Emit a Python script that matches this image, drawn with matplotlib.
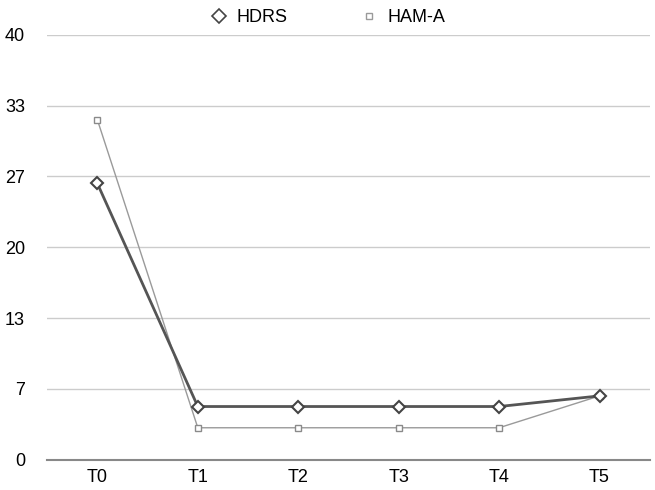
import numpy as np
import matplotlib
matplotlib.use('Agg')
import matplotlib.pyplot as plt
from matplotlib.lines import Line2D

plt.rcParams['font.family'] = ['Liberation Sans', 'DejaVu Sans']

times = ['T0', 'T1', 'T2', 'T3', 'T4', 'T5']
hdrs = [26, 5, 5, 5, 5, 6]
ham_a = [32, 3, 3, 3, 3, 6]
yticks = np.linspace(0, 40, 7)
ytick_labels = ['0', '7', '13', '20', '27', '33', '40']

fig = plt.figure(figsize=(6.55, 4.9), dpi=100)
ax = fig.add_axes([0.072, 0.062, 0.92, 0.867])

x = np.arange(len(times))
ax.plot(x, ham_a, color='#9a9a9a', lw=1.0, marker='s', ms=5,
        mfc='white', mec='#8a8a8a', mew=1.0, zorder=3)
ax.plot(x, hdrs, color='#555555', lw=2.0, marker='D', ms=6,
        mfc='white', mec='#444444', mew=1.5, zorder=4)

ax.set_xlim(-0.5, 5.5)
ax.set_ylim(0, 40)
ax.set_xticks(x)
ax.set_xticklabels(times, fontsize=13)
ax.set_yticks(yticks)
ax.set_yticklabels(ytick_labels, fontsize=13)
ax.tick_params(length=0)
ax.tick_params(axis='x', pad=7)
ax.tick_params(axis='y', pad=16)
for y in yticks[1:]:
    ax.axhline(y, color='#cccccc', lw=1.0, zorder=1)
for s in ['top', 'right', 'left']:
    ax.spines[s].set_visible(False)
ax.spines['bottom'].set_color('#888888')
ax.spines['bottom'].set_linewidth(1.5)

# legend: markers only
h1 = Line2D([], [], ls='none', marker='D', ms=7, mfc='white', mec='#444444', mew=1.2)
h2 = Line2D([], [], ls='none', marker='s', ms=5, mfc='white', mec='#9a9a9a', mew=1.0)
fig.legend([h1, h2], ['HDRS', 'HAM-A'], loc='upper center', ncol=2,
           frameon=False, fontsize=13, bbox_to_anchor=(0.5, 1.015),
           columnspacing=4.0, handletextpad=0.5, handlelength=1.0)

plt.savefig('out.png')
